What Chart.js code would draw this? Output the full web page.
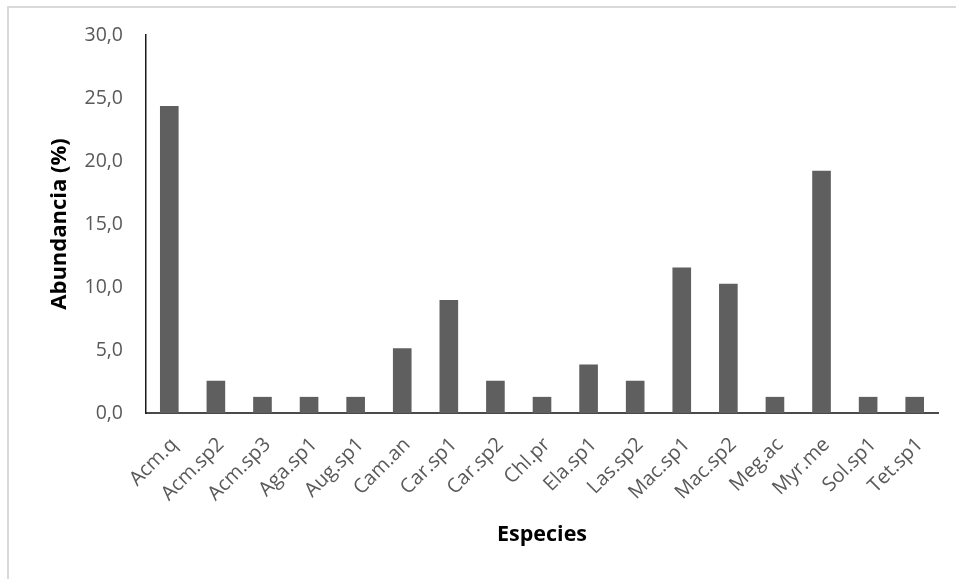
<!DOCTYPE html>
<html>
<head>
<meta charset="utf-8">
<script src="https://cdn.jsdelivr.net/npm/chart.js@4.4.1/dist/chart.umd.min.js"></script>
<style>
  html, body { margin: 0; padding: 0; background: #fff; }
  #wrap { position: relative; width: 956px; height: 579px; }
  #frame { position: absolute; left: 7px; top: 6px; right: 0; bottom: 0;
           border-top: 2px solid #d9d9d9; border-left: 2px solid #d9d9d9; pointer-events: none; }
  canvas { position: absolute; left: 0; top: 0; }
</style>
</head>
<body>
<div id="wrap">
  <canvas id="chart" width="956" height="579"></canvas>
  <div id="frame"></div>
</div>
<script>
// Species codes along the x axis
const especies = ['Acm.q', 'Acm.sp2', 'Acm.sp3', 'Aga.sp1', 'Aug.sp1', 'Cam.an', 'Car.sp1', 'Car.sp2',
  'Chl.pr', 'Ela.sp1', 'Las.sp2', 'Mac.sp1', 'Mac.sp2', 'Meg.ac', 'Myr.me', 'Sol.sp1', 'Tet.sp1'];

// Relative abundance per species (%)
const abundancia = [24.36, 2.56, 1.28, 1.28, 1.28, 5.13, 8.97, 2.56,
  1.28, 3.85, 2.56, 11.54, 10.26, 1.28, 19.23, 1.28, 1.28];

// Y axis range and step
const yMin = 0;
const yMax = 30;
const yStep = 5;

const tickColor = '#595959';
const fontFamily = "'Open Sans', 'Liberation Sans', sans-serif";

new Chart(document.getElementById('chart'), {
  type: 'bar',
  data: {
    labels: especies,
    datasets: [{
      data: abundancia,
      backgroundColor: '#5f5f5f',
      borderWidth: 0,
      categoryPercentage: 1.0,
      barPercentage: 0.4
    }]
  },
  options: {
    responsive: false,
    animation: false,
    devicePixelRatio: 1,
    layout: { padding: { top: 35, right: 18, left: 0, bottom: 0 } },
    plugins: { legend: { display: false }, tooltip: { enabled: false } },
    scales: {
      x: {
        grid: { display: false, drawTicks: false },
        border: { display: true, color: '#4a4a4a', width: 2 },
        ticks: {
          color: tickColor,
          font: { family: fontFamily, size: 20 },
          maxRotation: 45,
          minRotation: 45,
          padding: 20,
          labelOffset: 5,
          autoSkip: false
        },
        title: {
          display: true,
          text: 'Especies',
          color: '#000',
          font: { family: fontFamily, size: 21.5, weight: 'bold' },
          padding: { top: 31, bottom: 31 }
        },
        afterFit: (scale) => { scale.height = 166; }
      },
      y: {
        min: yMin,
        max: yMax,
        grid: { display: false, drawTicks: false },
        border: { display: true, color: '#1a1a1a', width: 1.5 },
        ticks: {
          stepSize: yStep,
          color: tickColor,
          font: { family: fontFamily, size: 19.5 },
          padding: 23,
          callback: (v) => Number(v).toFixed(1).replace('.', ',')
        },
        title: {
          display: true,
          text: 'Abundancia (%)',
          color: '#000',
          font: { family: fontFamily, size: 22, weight: 'bold' },
          padding: { top: 47, bottom: 47 }
        },
        afterFit: (scale) => { scale.width = 146; }
      }
    }
  }
});
</script>
</body>
</html>
